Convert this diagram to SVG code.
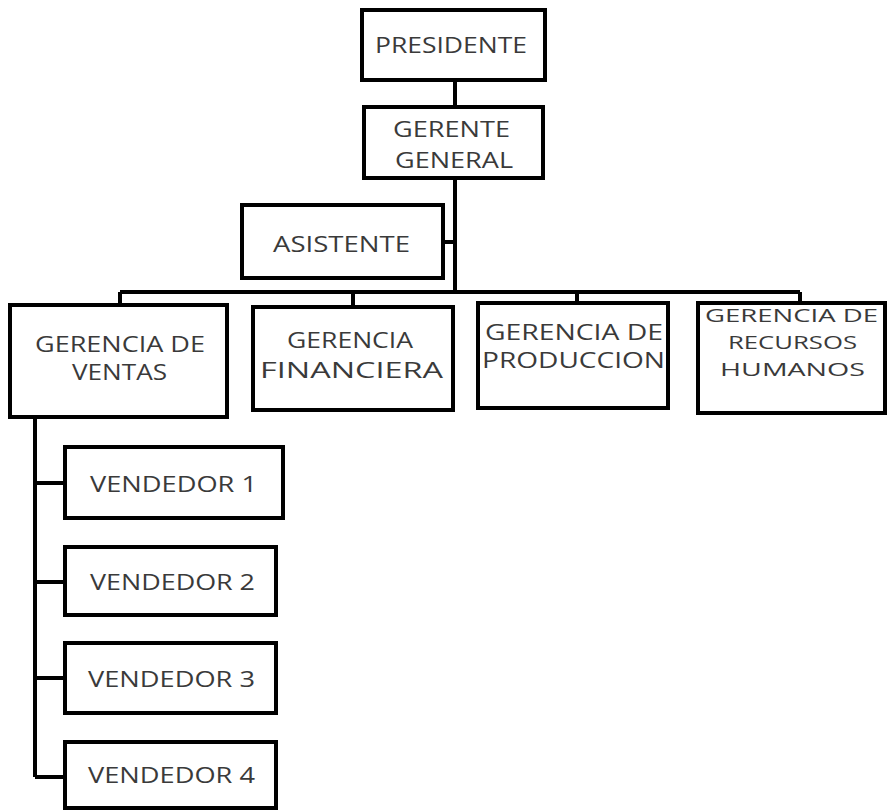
<svg xmlns="http://www.w3.org/2000/svg" width="888" height="811" viewBox="0 0 888 811">
<style>
.box{fill:#fff;stroke:#000;stroke-width:4}
.con{fill:none;stroke:#000;stroke-width:4}
text{font-family:"Open Sans","Liberation Sans",sans-serif;font-size:22px;fill:#3a3a3a}
text.sm{font-size:19px}
</style>
<rect width="888" height="811" fill="#fff"/>
<g id="connectors">
<path class="con" d="M455 80 V107 M455 178 V292 M443 242 H455 M120 292 H800 M120 292 V305 M353 292 V307 M577 292 V303 M800 292 V303"/>
<path class="con" d="M35 417 V777 M35 483 H65 M35 582 H65 M35 678 H65 M35 777 H65"/>
</g>
<g id="presidente"><rect class="box" x="362" y="10" width="183" height="70"/><text x="375" y="53" textLength="152" lengthAdjust="spacingAndGlyphs">PRESIDENTE</text></g>
<g id="gerente-general"><rect class="box" x="364" y="107" width="179" height="71"/><text x="393" y="137" textLength="117" lengthAdjust="spacingAndGlyphs">GERENTE</text><text x="395" y="168" textLength="118" lengthAdjust="spacingAndGlyphs">GENERAL</text></g>
<g id="asistente"><rect class="box" x="242" y="205" width="201" height="73"/><text x="273" y="252" textLength="137" lengthAdjust="spacingAndGlyphs">ASISTENTE</text></g>
<g id="gerencia-ventas"><rect class="box" x="10" y="305" width="217" height="112"/><text x="35" y="352" textLength="170" lengthAdjust="spacingAndGlyphs">GERENCIA DE</text><text x="72" y="380" textLength="95" lengthAdjust="spacingAndGlyphs">VENTAS</text></g>
<g id="gerencia-financiera"><rect class="box" x="253" y="307" width="200" height="103"/><text x="287" y="348" textLength="126" lengthAdjust="spacingAndGlyphs">GERENCIA</text><text x="260" y="378" textLength="183" lengthAdjust="spacingAndGlyphs">FINANCIERA</text></g>
<g id="gerencia-produccion"><rect class="box" x="478" y="303" width="190" height="105"/><text x="485" y="340" textLength="178" lengthAdjust="spacingAndGlyphs">GERENCIA  DE</text><text x="482" y="368" textLength="183" lengthAdjust="spacingAndGlyphs">PRODUCCION</text></g>
<g id="gerencia-rrhh"><rect class="box" x="698" y="303" width="187" height="110"/><text class="sm" x="705" y="322" textLength="173" lengthAdjust="spacingAndGlyphs">GERENCIA DE</text><text class="sm" x="728" y="349" textLength="129" lengthAdjust="spacingAndGlyphs">RECURSOS</text><text class="sm" x="720" y="376" textLength="145" lengthAdjust="spacingAndGlyphs">HUMANOS</text></g>
<g id="vendedor1"><rect class="box" x="65" y="447" width="218" height="71"/><text x="90" y="492" textLength="167" lengthAdjust="spacingAndGlyphs">VENDEDOR 1</text></g>
<g id="vendedor2"><rect class="box" x="65" y="547" width="211" height="68"/><text x="90" y="590" textLength="165" lengthAdjust="spacingAndGlyphs">VENDEDOR 2</text></g>
<g id="vendedor3"><rect class="box" x="65" y="643" width="211" height="70"/><text x="88" y="687" textLength="167" lengthAdjust="spacingAndGlyphs">VENDEDOR 3</text></g>
<g id="vendedor4"><rect class="box" x="65" y="742" width="211" height="66"/><text x="88" y="783" textLength="167" lengthAdjust="spacingAndGlyphs">VENDEDOR 4</text></g>
</svg>
